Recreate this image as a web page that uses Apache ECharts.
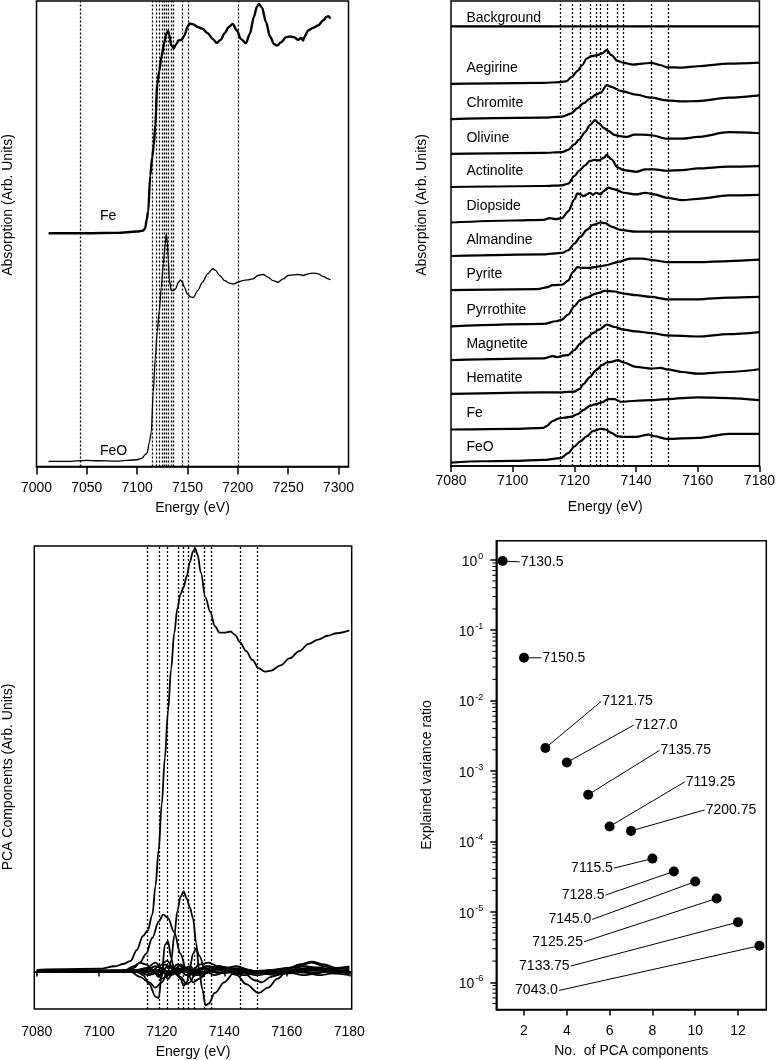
<!DOCTYPE html>
<html><head><meta charset="utf-8">
<script src="https://cdn.jsdelivr.net/npm/echarts@6/dist/echarts.min.js"></script>
<style>html,body{margin:0;padding:0;background:#fff}#c{width:778px;height:1060px}</style>
</head><body><div id="c"></div>
<script>
// ---------- selected energies (dotted lines) ----------
const selectedEnergies = [7130.5, 7150.5, 7121.75, 7127.0, 7135.75, 7119.25, 7200.75, 7115.5, 7128.5, 7145.0, 7125.25, 7133.75, 7043.0];

// ---------- Panel A: full-range spectra ----------
const feFull = [[7012,6.9],[7030,6.9],[7050,6.9],[7080,6.91],[7100,6.95],[7106,6.98],[7108,7.05],[7109.5,7.3],[7111,7.55],[7113,8.6],[7115,9.15],[7116.5,9.5],[7118,10.1],[7120,11.3],[7122,11.7],[7124,12.1],[7127,12.55],[7129,12.8],[7130.7,12.88],[7132,12.75],[7134,12.45],[7136.4,12.38],[7139,12.5],[7141,12.6],[7144,12.62],[7147,12.75],[7150,13.0],[7152,13.1],[7156,13.08],[7160,13.0],[7165,12.95],[7170,12.82],[7175,12.65],[7179,12.53],[7183,12.62],[7187,12.82],[7191,13.0],[7195,13.09],[7199,12.9],[7203,12.65],[7208,12.52],[7212,12.8],[7216,13.3],[7219,13.6],[7221,13.68],[7224,13.58],[7228,13.15],[7232,12.72],[7236,12.5],[7239,12.45],[7243,12.55],[7248,12.7],[7252,12.72],[7256,12.7],[7260,12.62],[7263,12.68],[7265,12.6],[7266,12.7],[7270,12.9],[7275,12.98],[7280,13.05],[7285,13.2],[7288,13.3],[7290,13.32],[7292,13.25]];
const feoFull = [[7012,0.15],[7030,0.15],[7050,0.18],[7060,0.17],[7080,0.16],[7100,0.2],[7105,0.25],[7108,0.35],[7110,0.4],[7112,0.7],[7114,1.0],[7116,2.2],[7118,3.2],[7120,4.0],[7122,4.6],[7124,5.3],[7126,6.0],[7128,6.6],[7129,6.88],[7130,6.65],[7131,6.1],[7132,5.5],[7134,5.2],[7136,5.2],[7138,5.25],[7141,5.45],[7143,5.52],[7145,5.45],[7147,5.3],[7150,5.1],[7153,5.02],[7156,5.0],[7160,5.2],[7165,5.45],[7170,5.7],[7175,5.85],[7178,5.8],[7182,5.65],[7187,5.5],[7192,5.42],[7196,5.4],[7200,5.45],[7205,5.5],[7210,5.52],[7215,5.55],[7220,5.65],[7225,5.68],[7230,5.6],[7235,5.5],[7240,5.45],[7245,5.55],[7250,5.65],[7255,5.67],[7260,5.68],[7265,5.65],[7270,5.7],[7275,5.72],[7280,5.7],[7285,5.62],[7290,5.55],[7292,5.52]];
const fullNames = ['Fe', 'FeO'];
const fullLabelAt = [[7063, 7.4], [7063, 0.45]];

// ---------- Panel B: reference XANES (height above own baseline) ----------
const refNames = ['Background','Aegirine','Chromite','Olivine','Actinolite','Diopside','Almandine','Pyrite','Pyrrothite','Magnetite','Hematite','Fe','FeO'];
const refOffsets = [13.0, 11.30, 10.26, 9.23, 8.25, 7.20, 6.21, 5.20, 4.13, 3.13, 2.13, 1.08, 0.10];
const background = [[7080,0],[7180,0]];
const aegirine = [[7080,0],[7110,.03],[7115.5,.05],[7117.5,.08],[7119,.2],[7121,.38],[7122.5,.55],[7124,.75],[7125.5,.82],[7127.5,.85],[7129,.9],[7130.5,1.0],[7132,.85],[7134,.68],[7136,.62],[7139,.57],[7142,.6],[7145,.62],[7148,.55],[7150,.49],[7155,.48],[7160,.52],[7170,.6],[7180,.63]];
const chromite = [[7080,0],[7110,.04],[7116,.07],[7119,.17],[7121,.32],[7123,.47],[7125,.6],[7127,.72],[7128.5,.78],[7130.5,1.0],[7132,.95],[7135,.83],[7140,.72],[7145,.63],[7150,.55],[7155,.52],[7160,.53],[7170,.63],[7180,.7]];
const olivine = [[7080,0],[7110,.03],[7116,.05],[7118,.12],[7120,.28],[7121.5,.42],[7123.5,.64],[7125,.85],[7126.7,1.0],[7128,.9],[7129.5,.77],[7131,.68],[7133,.56],[7135,.52],[7137,.5],[7139.5,.57],[7142,.57],[7145,.55],[7150,.45],[7155,.45],[7160,.5],[7170,.64],[7180,.61]];
const actinolite = [[7080,0],[7110,.03],[7116,.05],[7118,.1],[7120,.32],[7121.5,.48],[7123.5,.64],[7125,.77],[7126.5,.8],[7128,.79],[7129.5,.86],[7130.5,.95],[7132,.82],[7134,.58],[7136,.5],[7140,.45],[7143,.52],[7146,.52],[7150,.48],[7155,.5],[7160,.55],[7170,.6],[7180,.62]];
const diopside = [[7080,0],[7100,.06],[7110,.08],[7112,.13],[7114,.1],[7116,.13],[7118,.33],[7120,.68],[7121,.86],[7122,.83],[7123,.78],[7124,.83],[7125,.88],[7126,.82],[7127,.88],[7128.5,.83],[7129.5,.93],[7131,1.03],[7133,.98],[7136,.88],[7140,.83],[7143,.88],[7146,.83],[7150,.73],[7155,.66],[7160,.7],[7170,.8],[7180,.82]];
const almandine = [[7080,0],[7110,.05],[7116,.09],[7118,.17],[7120,.37],[7122,.57],[7124,.77],[7126,.92],[7128.5,.99],[7130,.97],[7132,.87],[7135,.77],[7140,.72],[7145,.72],[7150,.72],[7160,.72],[7170,.72],[7180,.72]];
const pyrite = [[7080,0],[7108,.03],[7111,.08],[7113,.15],[7116,.16],[7118,.28],[7119.5,.53],[7121,.68],[7122.5,.66],[7125,.66],[7128,.7],[7130,.73],[7134,.83],[7138,.93],[7142,.93],[7146,.88],[7150,.83],[7160,.83],[7170,.86],[7180,.9]];
const pyrrothite = [[7080,0],[7110,.07],[7114,.15],[7116,.2],[7118,.35],[7120,.6],[7121.75,.77],[7124,.85],[7127,.97],[7130,1.05],[7133,1.03],[7136,.97],[7140,.92],[7145,.87],[7150,.8],[7160,.8],[7170,.85],[7180,.87]];
const magnetite = [[7080,0],[7110,.05],[7113,.12],[7114.5,.09],[7116,.13],[7118,.15],[7120,.3],[7122,.5],[7124,.65],[7126,.8],[7128,.9],[7130.5,1.05],[7133,.98],[7136,.9],[7140,.85],[7145,.8],[7150,.73],[7160,.7],[7170,.77],[7180,.83]];
const hematite = [[7080,0],[7110,.05],[7116,.05],[7120,.07],[7121.75,.15],[7123,.3],[7125,.5],[7127,.7],[7129,.85],[7130.5,.93],[7132,.95],[7134,1.0],[7136,.93],[7140,.8],[7145,.75],[7148,.77],[7150,.73],[7155,.65],[7160,.6],[7170,.65],[7180,.73]];
const feRef = [[7080,0],[7100,.02],[7110,.05],[7111,.1],[7113,.25],[7115,.33],[7117,.35],[7119,.38],[7121,.45],[7123,.58],[7125,.7],[7127,.75],[7129,.8],[7131,.9],[7133,.9],[7135,.82],[7140,.85],[7145,.87],[7150,.9],[7160,.95],[7170,.93],[7180,.87]];
const feoRef = [[7080,0],[7090,.04],[7100,.05],[7110,.08],[7115.5,.13],[7118,.28],[7120,.48],[7122,.63],[7124,.78],[7126,.93],[7128.5,1.0],[7130,.98],[7132,.88],[7134,.78],[7136,.76],[7140,.76],[7144,.83],[7146,.78],[7150,.7],[7160,.73],[7170,.85],[7180,.85]];
const refSpectra = [background, aegirine, chromite, olivine, actinolite, diopside, almandine, pyrite, pyrrothite, magnetite, hematite, feRef, feoRef];

// ---------- Panel C: PCA components ----------
const pc1 = [[7080,0.05],[7100,0.08],[7105,0.15],[7108,0.22],[7110,0.3],[7112,0.6],[7114,1.0],[7115.5,1.15],[7117,1.6],[7118,2.4],[7119,3.4],[7120,4.7],[7121,6.0],[7122,7.3],[7123,8.5],[7124,9.5],[7125,10.2],[7126,10.6],[7127,10.8],[7128,11.1],[7129,11.5],[7130,11.8],[7130.7,11.88],[7131.5,11.7],[7132.5,11.2],[7134,10.5],[7135.5,10.1],[7137,9.7],[7138.5,9.52],[7140,9.52],[7142,9.55],[7143.5,9.45],[7145,9.25],[7147,9.0],[7149,8.75],[7151,8.52],[7153,8.42],[7155,8.45],[7158,8.6],[7161,8.8],[7164,9.0],[7167,9.2],[7170,9.32],[7173,9.43],[7176,9.5],[7180,9.58]];
const pc2 = [[7080,0],[7110,0],[7115,0.05],[7118,0.15],[7120,0.1],[7122,0],[7123,0.3],[7124,1.0],[7125,1.7],[7126,2.1],[7127,2.25],[7128,2.05],[7129,1.8],[7130,1.5],[7131,0.8],[7132,0],[7133,-0.5],[7134,-0.95],[7135,-0.9],[7137,-0.6],[7140,-0.3],[7143,-0.05],[7146,0],[7150,-0.05],[7155,0],[7160,0.1],[7165,0.15],[7170,0.1],[7175,0],[7180,-0.05]];
const pc3 = [[7080,0],[7108,0],[7111,0.1],[7113,0.25],[7115,0.5],[7117,0.95],[7119,1.4],[7120.5,1.6],[7122,1.5],[7124,1.1],[7126,0.5],[7128,0],[7130,-0.3],[7132,-0.2],[7135,0.05],[7140,0.12],[7145,0.05],[7150,-0.25],[7152,-0.3],[7155,-0.15],[7160,0],[7170,0.05],[7180,0.1]];
const pc4 = [[7080,0],[7112,0],[7114,-0.1],[7116,-0.35],[7118,-0.7],[7119,-0.75],[7120,-0.1],[7121,0.75],[7122,0.85],[7123,0.4],[7124,0],[7126,-0.2],[7127,-0.4],[7128,-0.3],[7129,0.1],[7130,0.5],[7131,0.65],[7132,0.45],[7134,0],[7137,-0.1],[7142,0.05],[7150,0],[7160,-0.05],[7170,0.05],[7180,0]];
const pc5 = [[7080,0],[7108,0.02],[7111,0.15],[7113,0.25],[7115,0.2],[7117,0.05],[7119,-0.15],[7121,0.2],[7123,0.1],[7125,-0.1],[7127,0.05],[7129,0.15],[7131,0],[7133,-0.15],[7135,0.1],[7138,0.15],[7142,0.1],[7145,0],[7150,-0.1],[7155,-0.05],[7160,0.1],[7165,0.2],[7168,0.25],[7172,0.15],[7176,0.05],[7180,0]];
const pc6 = [[7080,0],[7110,0],[7113,-0.15],[7116,-0.3],[7118,-0.45],[7120,-0.3],[7122,0],[7125,0.1],[7128,-0.1],[7131,0.05],[7135,0.15],[7140,0.05],[7144,-0.1],[7147,-0.35],[7151,-0.6],[7154,-0.45],[7157,-0.2],[7160,0],[7165,0.15],[7170,0.12],[7175,0.05],[7180,-0.05]];
const pc7 = [[7080,0],[7112,0],[7115,0.1],[7118,0.25],[7120,0.1],[7122,-0.2],[7124,0.05],[7126,0.2],[7128,0.1],[7130,-0.1],[7132,0.1],[7136,0.05],[7140,0.1],[7144,0.15],[7148,0.05],[7152,-0.05],[7156,0],[7160,0.05],[7164,0.2],[7168,0.28],[7172,0.2],[7176,0.1],[7180,0.05]];
const pc8 = [[7080,0],[7112,0],[7116,-0.1],[7119,0.15],[7121.75,0.3],[7124,0.05],[7126,-0.15],[7128,-0.35],[7129,-0.3],[7131,0],[7134,0.15],[7138,0.12],[7142,0],[7146,-0.1],[7150,-0.05],[7155,0.05],[7160,0],[7165,-0.1],[7170,-0.05],[7175,0.1],[7180,0.15]];
const pc9 = [[7080,0],[7112,0.05],[7115,0.1],[7118,0.05],[7120,-0.2],[7122,-0.1],[7125,0.2],[7127,0.1],[7129,-0.1],[7132,0.2],[7135,0.25],[7138,0.15],[7142,0.1],[7146,0.05],[7150,0],[7156,-0.1],[7160,-0.05],[7165,0.05],[7170,0.1],[7175,-0.05],[7180,-0.1]];
const pc10 = [[7080,0],[7114,0],[7116,0.08],[7119,-0.1],[7122,0.15],[7125,0],[7128,0.12],[7131,-0.1],[7134,-0.05],[7137,0.1],[7140,0.05],[7145,0.1],[7150,0],[7155,0.05],[7160,0.1],[7165,0],[7170,-0.1],[7175,-0.05],[7180,0.05]];
const pc11 = [[7080,0],[7114,0],[7117,-0.08],[7120,0.1],[7123,-0.1],[7126,0.05],[7129,0.08],[7132,-0.08],[7136,0],[7140,-0.05],[7145,0.05],[7150,0.02],[7155,-0.05],[7160,0],[7165,0.08],[7170,0.1],[7175,0.05],[7180,-0.08]];
const pc12 = [[7080,0],[7113,0],[7116,0.05],[7119,0],[7122,-0.08],[7126,0.08],[7130,-0.05],[7134,0.08],[7138,-0.05],[7143,0.05],[7148,-0.03],[7155,0.03],[7162,-0.05],[7168,0.05],[7174,0.08],[7180,0.12]];
const pc13 = [[7080,0],[7115,0],[7118,0.05],[7122,0],[7125,-0.05],[7128,0.05],[7132,-0.03],[7138,0.05],[7145,-0.05],[7152,0.03],[7160,0],[7168,-0.04],[7175,0.02],[7180,-0.03]];
const pcaComponents = [pc1, pc2, pc3, pc4, pc5, pc6, pc7, pc8, pc9, pc10, pc11, pc12, pc13];

// ---------- Panel D: explained variance ----------
const pcaCount = [1,2,3,4,5,6,7,8,9,10,11,12,13];
const explainedVar = [0.957, 0.0405, 2.12e-3, 1.32e-3, 4.61e-4, 1.63e-4, 1.41e-4, 5.70e-5, 3.75e-5, 2.69e-5, 1.55e-5, 7.14e-6, 3.30e-6];
const pointLabels = ['7130.5','7150.5','7121.75','7127.0','7135.75','7119.25','7200.75','7115.5','7128.5','7145.0','7125.25','7133.75','7043.0'];
const labelAnchorX = [1.80, 2.82, 5.61, 7.13, 8.33, 9.51, 10.44, 6.20, 5.81, 5.19, 4.80, 4.18, 3.63];
const labelAnchorY = [0.93, 0.0405, 9.75e-3, 4.49e-3, 1.96e-3, 7.0e-4, 2.8e-4, 4.18e-5, 1.73e-5, 7.8e-6, 3.76e-6, 1.70e-6, 7.65e-7];
const labelSide = ['r','r','r','r','r','r','r','l','l','l','l','l','l'];
const logTickValues = [1e-6, 1e-5, 1e-4, 1e-3, 1e-2, 1e-1, 1];
const countTicks = [2, 4, 6, 8, 10, 12];

// ---------- rendering ----------
const FONT = '"Liberation Sans", Arial, Helvetica, sans-serif';
const txt = {color: '#000', fontFamily: FONT, fontSize: 14};
const chart = echarts.init(document.getElementById('c'), null, {renderer: 'canvas'});

const dotted = (lo, hi) => ({
  silent: true, symbol: ['none', 'none'], label: {show: false},
  lineStyle: {type: [2, 2], width: 1.3, color: '#000'},
  emphasis: {disabled: true},
  data: selectedEnergies.filter(e => e >= lo && e <= hi).map(e => ({xAxis: e}))
});

const textSeries = (xi, names, pts) => ({
  type: 'custom', xAxisIndex: xi, yAxisIndex: xi, silent: true, clip: false, z: 5,
  data: pts,
  renderItem: (params, api) => {
    const p = api.coord([api.value(0), api.value(1)]);
    return {type: 'text', x: p[0], y: p[1], style: {text: names[params.dataIndex], fill: '#000', font: '14px ' + FONT, align: 'left', verticalAlign: 'middle'}};
  }
});

const series = [];
// A
series.push({type: 'line', xAxisIndex: 0, yAxisIndex: 0, data: feFull, showSymbol: false, smooth: 0.3, smoothMonotone: 'x', lineStyle: {color: '#000', width: 2.4}, markLine: dotted(7000, 7310)});
series.push({type: 'line', xAxisIndex: 0, yAxisIndex: 0, data: feoFull, showSymbol: false, smooth: 0.3, smoothMonotone: 'x', lineStyle: {color: '#000', width: 1.3}});
series.push(textSeries(0, fullNames, fullLabelAt));
// B
refSpectra.forEach((s, i) => {
  series.push({type: 'line', xAxisIndex: 1, yAxisIndex: 1, data: s.map(p => [p[0], p[1] + refOffsets[i]]), showSymbol: false, smooth: 0.3, smoothMonotone: 'x', lineStyle: {color: '#000', width: 2.2}, markLine: i === 0 ? dotted(7080, 7180) : undefined});
});
series.push(textSeries(1, refNames, refNames.map((n, i) => [7085, refOffsets[i] + (i === 0 ? 0.23 : 0.47)])));
// C
pcaComponents.forEach((s, i) => {
  series.push({type: 'line', xAxisIndex: 2, yAxisIndex: 2, data: s, showSymbol: false, smooth: 0.35, smoothMonotone: 'x', lineStyle: {color: '#000', width: 1.8}, markLine: i === 0 ? dotted(7079, 7181) : undefined});
});
// D
series.push({
  type: 'custom', xAxisIndex: 3, yAxisIndex: 3, silent: true, clip: false, z: 2,
  data: pcaCount.map((c, i) => [c, explainedVar[i], labelAnchorX[i], labelAnchorY[i]]),
  renderItem: (params, api) => {
    const i = params.dataIndex;
    const p0 = api.coord([api.value(0), api.value(1)]);
    const p1 = api.coord([api.value(2), api.value(3)]);
    const left = labelSide[i] === 'l';
    return {type: 'group', children: [
      {type: 'line', shape: {x1: p0[0], y1: p0[1], x2: p1[0], y2: p1[1]}, style: {stroke: '#000', lineWidth: 1}},
      {type: 'text', x: p1[0] + (left ? -1 : 1), y: p1[1], style: {text: pointLabels[i], fill: '#000', font: '14px ' + FONT, align: left ? 'right' : 'left', verticalAlign: 'middle'}}
    ]};
  }
});
series.push({type: 'scatter', xAxisIndex: 3, yAxisIndex: 3, z: 4, symbolSize: 10, itemStyle: {color: '#000', opacity: 1}, data: pcaCount.map((c, i) => [c, explainedVar[i]])});

const dMin = 4.12e-7, dMax = 1.855, dxMin = 0.706;

const gridBase = {show: true, borderColor: '#000', borderWidth: 1.5, backgroundColor: 'transparent', containLabel: false};
const plainY = (min, max, gi) => ({type: 'value', gridIndex: gi, min, max, axisLine: {show: false}, axisTick: {show: false}, axisLabel: {show: false}, splitLine: {show: false}});
const energyX = (gi, min, max, ticks, tickLen, margin, gap, extra) => Object.assign({
  type: 'value', gridIndex: gi, min, max,
  name: 'Energy (eV)', nameLocation: 'middle', nameGap: gap, nameTextStyle: txt,
  axisLine: {show: true, lineStyle: {color: '#000', width: 1.5}},
  axisTick: {show: true, inside: false, length: tickLen, customValues: ticks, lineStyle: {color: '#000', width: 1.5}},
  axisLabel: {show: true, margin, customValues: ticks, formatter: v => String(Math.round(v)), ...txt},
  splitLine: {show: false}
}, extra || {});

const titles = [
  {type: 'text', x: 8, y: 205, rotation: Math.PI / 2, style: {text: 'Absorption (Arb. Units)', fill: '#000', font: '14px ' + FONT, align: 'center', verticalAlign: 'middle'}},
  {type: 'text', x: 422, y: 205, rotation: Math.PI / 2, style: {text: 'Absorption (Arb. Units)', fill: '#000', font: '14px ' + FONT, align: 'center', verticalAlign: 'middle'}},
  {type: 'text', x: 8, y: 777, rotation: Math.PI / 2, style: {text: 'PCA Components (Arb. Units)', fill: '#000', font: '14px ' + FONT, align: 'center', verticalAlign: 'middle'}},
  {type: 'text', x: 427, y: 775, rotation: Math.PI / 2, style: {text: 'Explained variance ratio', fill: '#000', font: '14px ' + FONT, align: 'center', verticalAlign: 'middle'}}
];

const option = {
  animation: false,
  backgroundColor: '#fff',
  textStyle: {fontFamily: FONT},
  grid: [
    Object.assign({left: 36.5, right: 429.5, top: 1, bottom: 593.5}, gridBase),
    Object.assign({left: 451, right: 16.3, top: 1, bottom: 594}, gridBase),
    Object.assign({left: 34.3, right: 426.3, top: 546, bottom: 51}, gridBase),
    Object.assign({left: 496.3, right: 11.7, top: 540.8, bottom: 50.6}, gridBase)
  ],
  xAxis: [
    energyX(0, 7000, 7310, [7000, 7050, 7100, 7150, 7200, 7250, 7300], 8, 15, 35),
    energyX(1, 7080, 7180, [7080, 7100, 7120, 7140, 7160, 7180], 6, 8, 34),
    energyX(2, 7079.23, 7180.77, [7080, 7100, 7120, 7140, 7160, 7180], 5, 11, 31, {offset: 5}),
    {
      type: 'value', gridIndex: 3, min: dxMin, max: 13.32,
      name: 'No.  of PCA components', nameLocation: 'middle', nameGap: 35, nameTextStyle: txt,
      axisLine: {show: true, lineStyle: {color: '#000', width: 1.5}},
      axisTick: {show: true, inside: false, length: 6, customValues: countTicks, lineStyle: {color: '#000', width: 1.5}},
      axisLabel: {show: true, margin: 15, customValues: countTicks, ...txt},
      splitLine: {show: false}
    }
  ],
  yAxis: [
    plainY(0, 13.77, 0),
    plainY(0, 13.75, 1),
    plainY(-1.05, 11.95, 2),
    {
      type: 'log', gridIndex: 3, min: dMin, max: dMax, logBase: 10,
      axisLine: {show: true, lineStyle: {color: '#000', width: 1.5}},
      axisTick: {show: true, inside: false, length: 6, customValues: logTickValues, lineStyle: {color: '#000', width: 1.5}},
      axisLabel: {
        show: true, margin: 13, customValues: logTickValues,
        formatter: v => { const l = Math.log10(v); const e = Math.round(l); if (Math.abs(l - e) > 1e-6) return ''; return '{b|10}{s|' + e + '}'; },
        rich: {b: {fontSize: 14, fontFamily: FONT, color: '#000', verticalAlign: 'bottom', lineHeight: 18}, s: {fontSize: 9, fontFamily: FONT, color: '#000', verticalAlign: 'bottom', lineHeight: 18, padding: [0, 0, 8, 1]}}
      },
      splitLine: {show: false}, minorTick: {show: false}
    }
  ],
  graphic: {elements: titles},
  series
};
chart.setOption(option);

// minor log-axis ticks (2..9 of each decade), positioned through the axis scale
const tickEls = [];
for (let k = -7; k <= 0; k++) {
  for (let m = 2; m <= 9; m++) {
    const v = m * Math.pow(10, k);
    if (v < dMin || v > dMax) continue;
    const p = chart.convertToPixel({xAxisIndex: 3, yAxisIndex: 3}, [dxMin, v]);
    tickEls.push({type: 'line', silent: true, z: 10, shape: {x1: p[0] - 4, y1: p[1], x2: p[0], y2: p[1]}, style: {stroke: '#000', lineWidth: 1}});
  }
}
chart.setOption({graphic: {elements: titles.concat(tickEls)}});
</script>
</body></html>
